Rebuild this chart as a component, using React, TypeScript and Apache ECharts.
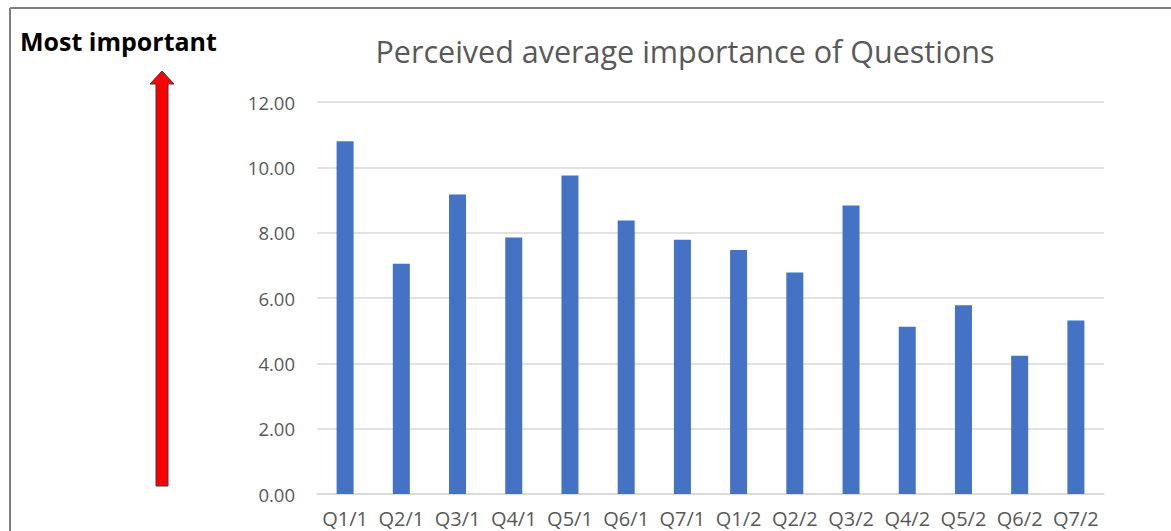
import React, { useEffect, useRef } from "react";
import * as echarts from "echarts";

const categories = ["Q1/1", "Q2/1", "Q3/1", "Q4/1", "Q5/1", "Q6/1", "Q7/1", "Q1/2", "Q2/2", "Q3/2", "Q4/2", "Q5/2", "Q6/2", "Q7/2"];
const values = [10.8, 7.05, 9.17, 7.85, 9.75, 8.37, 7.78, 7.47, 6.78, 8.83, 5.12, 5.78, 4.23, 5.31];
const titleText = "Perceived average importance of Questions";
const sideLabel = "Most important";

export default function App() {
  const ref = useRef<HTMLDivElement>(null);
  useEffect(() => {
    if (!ref.current) return;
    const chart = echarts.init(ref.current, null, { renderer: "svg" });
    chart.setOption({
      animation: false,
      backgroundColor: "#ffffff",
      title: {
        text: titleText,
        left: 680,
        textAlign: "center",
        top: 30,
        textStyle: { fontFamily: "Open Sans", fontWeight: "normal", fontSize: 30.5, color: "#595959" },
      },
      grid: { left: 317, right: 67, top: 102, bottom: 37 },
      xAxis: {
        type: "category",
        data: categories,
        boundaryGap: true,
        axisLine: { lineStyle: { color: "#d9d9d9", width: 1.5 } },
        axisTick: { show: false },
        axisLabel: { color: "#595959", fontSize: 20, fontFamily: "Open Sans", margin: 14, interval: 0 },
      },
      yAxis: {
        type: "value",
        min: 0,
        max: 12,
        interval: 2,
        axisLine: { show: false },
        axisTick: { show: false },
        splitLine: { lineStyle: { color: "#d9d9d9", width: 1.5 } },
        axisLabel: {
          color: "#595959",
          fontSize: 18.5,
          fontFamily: "Open Sans",
          margin: 22,
          formatter: (v: number) => v.toFixed(2),
        },
      },
      series: [
        {
          type: "bar",
          data: values,
          barWidth: 17,
          itemStyle: { color: "#4472C4" },
        },
      ],
      graphic: [
        { type: "line", shape: { x1: 10, y1: 8, x2: 10, y2: 531 }, style: { stroke: "#7f7f7f", lineWidth: 2 } },
        { type: "line", shape: { x1: 10, y1: 8, x2: 1171, y2: 8 }, style: { stroke: "#7f7f7f", lineWidth: 2 } },
        {
          type: "text",
          left: 20,
          top: 28,
          style: { text: sideLabel, fontFamily: "Open Sans", fontWeight: "bold", fontSize: 25, fill: "#000000" },
        },
        {
          type: "polygon",
          shape: {
            points: [
              [162, 71],
              [174, 84],
              [168, 84],
              [168, 486],
              [156, 486],
              [156, 84],
              [150, 84],
            ],
          },
          style: { fill: "#ff0000", stroke: "#3a3a4a", lineWidth: 1 },
        },
      ],
    });
    return () => chart.dispose();
  }, []);
  return <div ref={ref} style={{ position: "fixed", left: 0, top: 0, width: 1171, height: 531 }} />;
}
